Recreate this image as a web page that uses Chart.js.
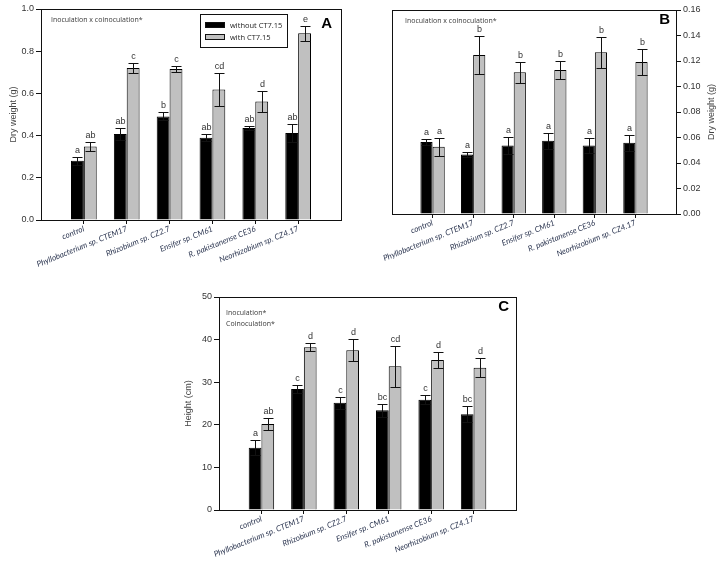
<!DOCTYPE html>
<html>
<head>
<meta charset="utf-8">
<script src="https://cdn.jsdelivr.net/npm/chart.js@4.4.0/dist/chart.umd.min.js"></script>
<style>
  body { margin: 0; background: #fff; }
  .panel { position: absolute; }
</style>
</head>
<body>
<div class="panel" style="left:0;top:0"><canvas id="chartA" width="360" height="290"></canvas></div>
<div class="panel" style="left:360px;top:0"><canvas id="chartB" width="367" height="290"></canvas></div>
<div class="panel" style="left:180px;top:270px"><canvas id="chartC" width="400" height="299"></canvas></div>
<script>
'use strict';

// data

const categories = ['control', 'Phyllobacterium sp. CTEM17', 'Rhizobium sp. CZ2.7', 'Ensifer sp. CM61', 'R. pakistanense CE36', 'Neorhizobium sp. CZ4.17'];
const seriesNames = ['without CT7.15', 'with CT7.15'];

// A - dry weight (g)
const dryA_without = [0.281, 0.408, 0.491, 0.390, 0.436, 0.412];
const dryA_with = [0.348, 0.720, 0.716, 0.618, 0.562, 0.885];
const dryA_withoutErr = [0.019, 0.028, 0.019, 0.016, 0.009, 0.041];
const dryA_withErr = [0.020, 0.022, 0.014, 0.080, 0.051, 0.036];
const dryA_withoutLetters = ['a', 'ab', 'b', 'ab', 'ab', 'ab'];
const dryA_withLetters = ['ab', 'c', 'c', 'cd', 'd', 'e'];
const dryA_ticks = [0, 0.2, 0.4, 0.6, 0.8, 1.0];

// B - dry weight (g)
const dryB_without = [0.0564, 0.0467, 0.0538, 0.0574, 0.0538, 0.0559];
const dryB_with = [0.0527, 0.1248, 0.1112, 0.1130, 0.1269, 0.1193];
const dryB_withoutErr = [0.0026, 0.0023, 0.0068, 0.0063, 0.0060, 0.0062];
const dryB_withErr = [0.0071, 0.0152, 0.0081, 0.0070, 0.0121, 0.0104];
const dryB_withoutLetters = ['a', 'a', 'a', 'a', 'a', 'a'];
const dryB_withLetters = ['a', 'b', 'b', 'b', 'b', 'b'];
const dryB_ticks = [0, 0.02, 0.04, 0.06, 0.08, 0.10, 0.12, 0.14, 0.16];

// C - height (cm)
const heightC_without = [14.6, 28.4, 25.2, 23.4, 25.9, 22.5];
const heightC_with = [20.2, 38.2, 37.5, 33.75, 35.2, 33.4];
const heightC_withoutErr = [1.8, 1.0, 1.4, 1.6, 1.1, 1.8];
const heightC_withErr = [1.4, 0.9, 2.6, 4.85, 1.8, 2.2];
const heightC_withoutLetters = ['a', 'c', 'c', 'bc', 'c', 'bc'];
const heightC_withLetters = ['ab', 'd', 'd', 'cd', 'd', 'd'];
const heightC_ticks = [0, 10, 20, 30, 40, 50];

// empty slot at both ends so the groups sit away from the frame
function pad(arr) {
  return [null, ...arr, null];
}

const textColor = '#333';
const labelColor = '#2b3550';

// error bars, letters, frame, notes, legend
const panelDecor = {
  id: 'panelDecor',
  afterDatasetsDraw(chart, args, opts) {
    const ctx = chart.ctx;
    const yScale = chart.scales.y;
    const area = chart.chartArea;
    ctx.save();
    ctx.lineWidth = 1;
    ctx.strokeStyle = '#111';

    chart.data.datasets.forEach((ds, d) => {
      const bars = chart.getDatasetMeta(d).data;
      bars.forEach((bar, i) => {
        const v = ds.data[i];
        if (v == null) {
          return;
        }
        const e = opts.errors[d][i];
        const x = Math.round(bar.x) + 0.5;
        const yTop = Math.round(yScale.getPixelForValue(v + e)) + 0.5;
        const yBot = Math.round(yScale.getPixelForValue(v - e)) + 0.5;
        ctx.beginPath();
        ctx.moveTo(x, yTop);
        ctx.lineTo(x, yBot);
        ctx.moveTo(x - 5, yTop);
        ctx.lineTo(x + 5, yTop);
        ctx.moveTo(x - 5, yBot);
        ctx.lineTo(x + 5, yBot);
        ctx.stroke();

        ctx.fillStyle = textColor;
        ctx.font = '9px "Liberation Sans", Arial, sans-serif';
        ctx.textAlign = 'center';
        ctx.textBaseline = 'bottom';
        ctx.fillText(opts.letters[d][i], x, yTop - 2);
      });
    });

    // frame round the plot area
    ctx.strokeStyle = '#111';
    ctx.strokeRect(Math.round(area.left) + 0.5, Math.round(area.top) + 0.5,
      Math.round(area.right - area.left), Math.round(area.bottom - area.top));

    // notes in the top left corner
    ctx.fillStyle = '#3a3a3a';
    ctx.font = '7px "Open Sans", sans-serif';
    ctx.textAlign = 'left';
    ctx.textBaseline = 'middle';
    opts.notes.forEach((note, n) => {
      ctx.fillText(note, area.left + opts.noteX, area.top + opts.noteY + n * 11);
    });

    // panel letter
    ctx.fillStyle = '#000';
    ctx.font = 'bold 15px "Liberation Sans", Arial, sans-serif';
    ctx.textAlign = 'right';
    ctx.textBaseline = 'middle';
    ctx.fillText(opts.panel, area.right - opts.panelX, area.top + opts.panelY);

    if (opts.legend) {
      const lx = area.left + 159;
      const ly = area.top + 5;
      ctx.strokeStyle = '#111';
      ctx.strokeRect(lx + 0.5, ly + 0.5, 87, 33);
      ctx.font = '7.5px "Open Sans", sans-serif';
      ctx.textAlign = 'left';
      chart.data.datasets.forEach((ds, d) => {
        const sy = ly + 8 + d * 12;
        ctx.fillStyle = ds.backgroundColor;
        ctx.fillRect(lx + 5, sy, 20, 6);
        ctx.strokeRect(lx + 5.5, sy + 0.5, 19, 5);
        ctx.fillStyle = '#222';
        ctx.fillText(ds.label, lx + 30, sy + 3.5);
      });
    }

    // title for the axis on the right, read from bottom to top
    if (opts.rightTitle) {
      ctx.save();
      ctx.translate(opts.rightTitleX, (area.top + area.bottom) / 2);
      ctx.rotate(-Math.PI / 2);
      ctx.fillStyle = '#444';
      ctx.font = '9px "Liberation Sans", Arial, sans-serif';
      ctx.textAlign = 'center';
      ctx.textBaseline = 'middle';
      ctx.fillText(opts.rightTitle, 0, 0);
      ctx.restore();
    }
    ctx.restore();
  }
};

function makePanel(canvasId, cfg) {
  const ctx = document.getElementById(canvasId).getContext('2d');
  return new Chart(ctx, {
    type: 'bar',
    data: {
      labels: pad(categories),
      datasets: [
        {
          label: seriesNames[0],
          data: pad(cfg.without),
          backgroundColor: '#000000',
          borderColor: '#000000',
          borderWidth: 1
        },
        {
          label: seriesNames[1],
          data: pad(cfg.with),
          backgroundColor: '#c0c0c0',
          borderColor: '#000000',
          borderWidth: 1
        }
      ]
    },
    options: {
      responsive: false,
      animation: false,
      categoryPercentage: 0.6,
      barPercentage: 1,
      layout: { padding: cfg.padding },
      plugins: {
        legend: { display: false },
        tooltip: { enabled: false },
        panelDecor: {
          errors: [pad(cfg.withoutErr), pad(cfg.withErr)],
          letters: [pad(cfg.withoutLetters), pad(cfg.withLetters)],
          notes: cfg.notes,
          noteX: cfg.noteX,
          noteY: cfg.noteY,
          panel: cfg.panel,
          panelX: cfg.panelX,
          panelY: cfg.panelY,
          legend: cfg.legend,
          rightTitle: cfg.rightTitle,
          rightTitleX: cfg.rightTitleX
        }
      },
      scales: {
        x: {
          offset: false,
          afterFit: (s) => { s.height = cfg.xHeight; },
          border: { display: false },
          grid: {
            offset: false,
            drawOnChartArea: false,
            tickLength: 4,
            color: (c) => (c.tick && c.tick.label === '' ? 'rgba(0,0,0,0)' : '#111')
          },
          ticks: {
            autoSkip: false,
            minRotation: 22,
            maxRotation: 22,
            padding: 0,
            color: labelColor,
            font: { family: 'Lato, "Open Sans", sans-serif', size: 8, style: 'italic' }
          }
        },
        y: {
          position: cfg.yPosition,
          min: cfg.ticks[0],
          max: cfg.ticks[cfg.ticks.length - 1],
          afterBuildTicks: (s) => { s.ticks = cfg.ticks.map((v) => ({ value: v })); },
          afterFit: (s) => { s.width = cfg.yWidth; },
          border: { display: false },
          grid: { drawOnChartArea: false, tickLength: 5, color: '#111' },
          ticks: {
            padding: 2,
            color: textColor,
            font: { family: '"Liberation Sans", Arial, sans-serif', size: 9 },
            callback: (v) => v.toFixed(cfg.decimals)
          },
          title: {
            display: !!cfg.yTitle,
            text: cfg.yTitle,
            color: '#444',
            padding: { top: cfg.titlePad, bottom: 0 },
            font: { family: '"Liberation Sans", Arial, sans-serif', size: 9 }
          }
        }
      }
    },
    plugins: [panelDecor]
  });
}

// executable code

makePanel('chartA', {
  without: dryA_without, with: dryA_with,
  withoutErr: dryA_withoutErr, withErr: dryA_withErr,
  withoutLetters: dryA_withoutLetters, withLetters: dryA_withLetters,
  ticks: dryA_ticks, decimals: 1,
  yPosition: 'left', yTitle: 'Dry weight (g)', titlePad: 8, yWidth: 41, xHeight: 70,
  padding: { left: 0, right: 19, top: 9, bottom: 0 },
  notes: ['Inoculation x coinoculation*'], noteX: 10, noteY: 11,
  panel: 'A', panelX: 9, panelY: 15, legend: true
});

makePanel('chartB', {
  without: dryB_without, with: dryB_with,
  withoutErr: dryB_withoutErr, withErr: dryB_withErr,
  withoutLetters: dryB_withoutLetters, withLetters: dryB_withLetters,
  ticks: dryB_ticks, decimals: 2,
  yPosition: 'right', yTitle: '', titlePad: 0, yWidth: 40, xHeight: 76,
  padding: { left: 32, right: 11, top: 10, bottom: 0 },
  notes: ['Inoculation x coinoculation*'], noteX: 13, noteY: 11,
  panel: 'B', panelX: 6, panelY: 10, legend: false,
  rightTitle: 'Dry weight (g)', rightTitleX: 352
});

makePanel('chartC', {
  without: heightC_without, with: heightC_with,
  withoutErr: heightC_withoutErr, withErr: heightC_withErr,
  withoutLetters: heightC_withoutLetters, withLetters: heightC_withLetters,
  ticks: heightC_ticks, decimals: 0,
  yPosition: 'left', yTitle: 'Height (cm)', titlePad: 3, yWidth: 39, xHeight: 59,
  padding: { left: 0, right: 64, top: 27, bottom: 0 },
  notes: ['Inoculation*', 'Coinoculation*'], noteX: 7, noteY: 16,
  panel: 'C', panelX: 7, panelY: 10, legend: false
});
</script>
</body>
</html>
